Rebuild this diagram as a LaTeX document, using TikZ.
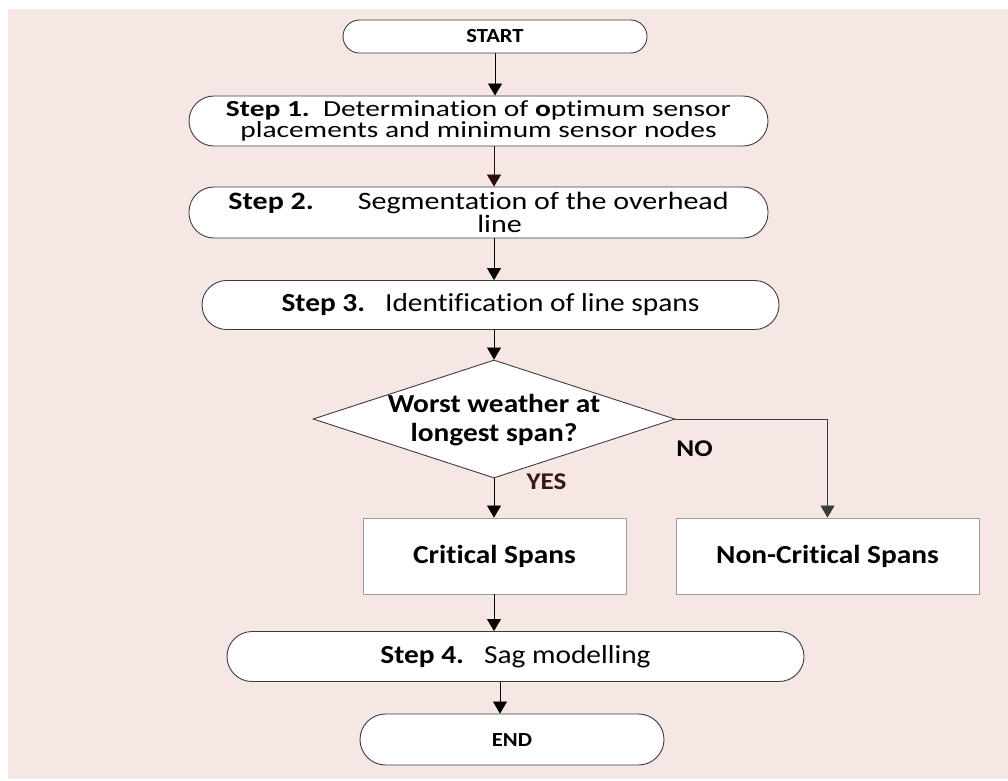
\documentclass[tikz,border=0pt]{standalone}
\usepackage{fontspec}
\setmainfont{Carlito}[FakeStretch=1.13,Ligatures=NoCommon]
\newfontfamily\widefont{Carlito}[FakeStretch=1.28,Ligatures=NoCommon]
\newfontfamily\midfont{Carlito}[FakeStretch=1.2,Ligatures=NoCommon]
\usetikzlibrary{arrows.meta,shapes.geometric}
\definecolor{bgpink}{HTML}{F6E6E4}
\definecolor{edgecol}{HTML}{3C3C3C}
\definecolor{lightedge}{HTML}{9C9C9C}
\definecolor{brownhead}{HTML}{2A0E0E}
\definecolor{brownline}{HTML}{8C7272}
\definecolor{yescol}{HTML}{3A1616}
\begin{document}
\begin{tikzpicture}[x=1pt,y=1pt,
  pillbox/.style={draw=edgecol, fill=white, line width=0.9pt, inner sep=0pt, align=center},
  sqbox/.style={draw=lightedge, fill=white, line width=0.9pt, inner sep=0pt, minimum width=263pt, minimum height=76pt, font=\fontsize{26}{30}\selectfont\bfseries},
  arr/.style={draw=black, line width=0.8pt, -{Triangle[width=14pt,length=12pt]}},
  lbl/.style={font=\fontsize{24}{28}\selectfont\bfseries}
]
\useasboundingbox (0,0) rectangle (1008,-780);
\fill[bgpink] (8,-9) rectangle (1008,-779);

\node[pillbox, rounded corners=16.5pt, minimum width=304pt, minimum height=33pt, font=\fontsize{20}{24}\selectfont\bfseries] (start) at (495,-36.5) {START};

\node[pillbox, rounded corners=25pt, minimum width=579pt, minimum height=50pt, font=\widefont\fontsize{23}{18}\selectfont] (s1) at (478.5,-121)
 {\textbf{Step 1.}\ \ Determination of \textbf{o}ptimum sensor\\placements and minimum sensor nodes};

\node[pillbox, rounded corners=25pt, minimum width=579pt, minimum height=51pt, font=\midfont\fontsize{25}{18}\selectfont] (s2) at (478.5,-212.5)
 {\textbf{Step 2.}\hspace{44pt}Segmentation of the overhead\\\hspace*{42pt}line};

\node[pillbox, rounded corners=24.5pt, minimum width=577pt, minimum height=49pt, font=\fontsize{26}{30}\selectfont] (s3) at (490.5,-305)
 {\textbf{Step 3.}\ \ \ Identification of line spans};

\node[draw=edgecol, fill=white, line width=0.9pt, diamond, inner sep=0pt, minimum width=362pt, minimum height=118pt] (d) at (494,-419) {};
\node[align=center, inner sep=0pt, font=\fontsize{26}{29}\selectfont\bfseries] (dtext) at (494,-420) {Worst weather at\\longest span?};

\node[sqbox] (crit) at (494.5,-556) {Critical Spans};
\node[sqbox, minimum width=303pt] (noncrit) at (827.5,-556) {Non-Critical Spans};

\node[pillbox, rounded corners=25pt, minimum width=577pt, minimum height=50pt, font=\fontsize{26}{30}\selectfont] (s4) at (515.5,-656.5)
 {\textbf{Step 4.}\ \ \ Sag modelling};

\node[pillbox, rounded corners=25.5pt, minimum width=304pt, minimum height=51pt, font=\fontsize{20}{24}\selectfont\bfseries] (end) at (512,-739.5) {END};

\coordinate (ax) at (494,0);
\coordinate (bx) at (500,0);

\draw[arr] (start.south) -- (start.south |- s1.north);
\draw[draw=brownline, line width=0.6pt, -{Triangle[width=14pt,length=12pt,fill=brownhead]}, brownhead] (ax |- s1.south) -- (ax |- s2.north);
\draw[arr] (ax |- s2.south) -- (ax |- s3.north);
\draw[arr] (ax |- s3.south) -- (d.north);
\draw[arr] (d.south) -- (ax |- crit.north);
\draw[arr, draw=edgecol] (d.east) -| (noncrit.north);
\draw[arr] (ax |- crit.south) -- (ax |- s4.north);
\draw[arr] (bx |- s4.south) -- (bx |- end.north);

\node[lbl] (no) at (694.5,-449) {NO};
\node[lbl, text=yescol] (yes) at (546.5,-482) {YES};
\end{tikzpicture}
\end{document}
